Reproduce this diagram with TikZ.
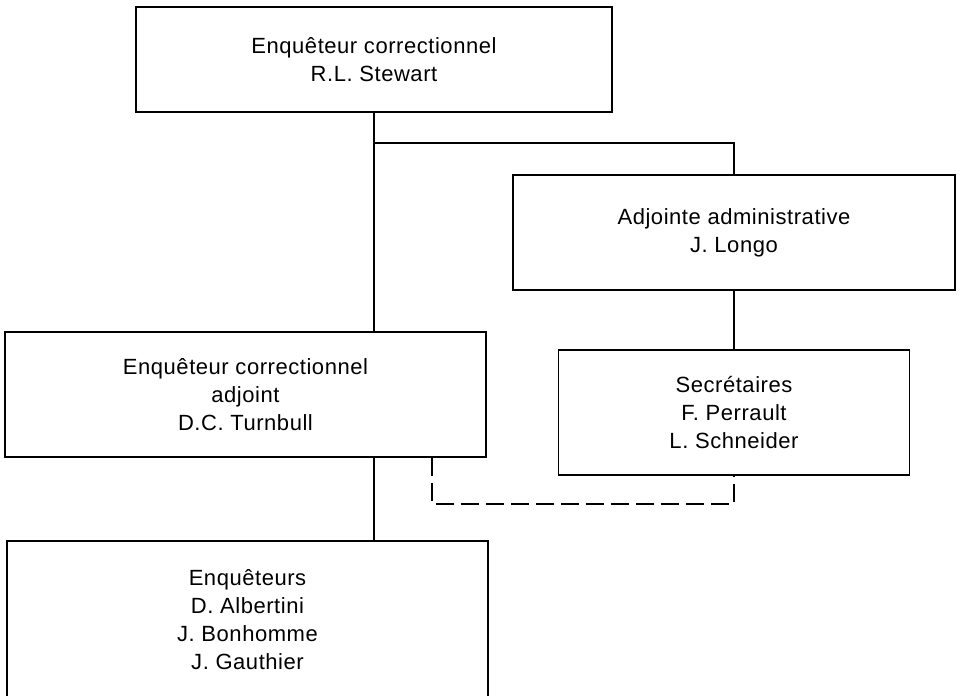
\documentclass[tikz,border=0pt]{standalone}
\usepackage{fontspec}
\setmainfont{Liberation Sans}[LetterSpace=2.5]
\usepackage{tikz}
\usetikzlibrary{calc}

\tikzset{
	orgbox/.style={draw=black, line width=0.75pt, inner sep=0pt, align=center,
		font=\fontsize{11}{14}\selectfont},
	orgline/.style={draw=black, line width=0.75pt},
	dashlink/.style={draw=black, line width=1.2pt, dash pattern=on 9pt off 3.5pt}
}

\begin{document}
\begin{tikzpicture}[x=0.5pt, y=-0.5pt]

		\useasboundingbox ( 0, 0 ) rectangle ( 960, 696 );
		\clip ( 0, 0 ) rectangle ( 960, 696 );

		\node[orgbox, minimum width=238pt, minimum height=52.5pt, at={( 374, 59.5 )}] (chief)
			{Enquêteur correctionnel\\R.L. Stewart};
		\node[orgbox, minimum width=221pt, minimum height=57.5pt, at={( 734, 232.5 )}] (admin)
			{Adjointe administrative\\J. Longo};
		\node[orgbox, minimum width=175.5pt, minimum height=62.5pt, at={( 734, 412.5 )}] (secr)
			{Secrétaires\\F. Perrault\\L. Schneider};
		\node[orgbox, minimum width=240.5pt, minimum height=62.5pt, at={( 245.5, 394.5 )}] (deputy)
			{Enquêteur correctionnel\\adjoint\\D.C. Turnbull};
		\node[orgbox, minimum width=240.5pt, minimum height=79pt, at={( 247.5, 620 )}] (team)
			{Enquêteurs\\D. Albertini\\J. Bonhomme\\J. Gauthier};

		\coordinate (split) at ( chief.south |- 0, 143 );

		\draw[orgline] (chief.south) -- (chief.south |- deputy.north);
		\draw[orgline] (split) -| (admin.north);
		\draw[orgline] (admin.south) -- (secr.north);
		\draw[orgline] (chief.south |- deputy.south) -- (chief.south |- team.north);
		\draw[dashlink] ([xshift=-27.5pt]deputy.south east) -- ++( 0, 46 ) -| (secr.south);

	\end{tikzpicture}
\end{document}
